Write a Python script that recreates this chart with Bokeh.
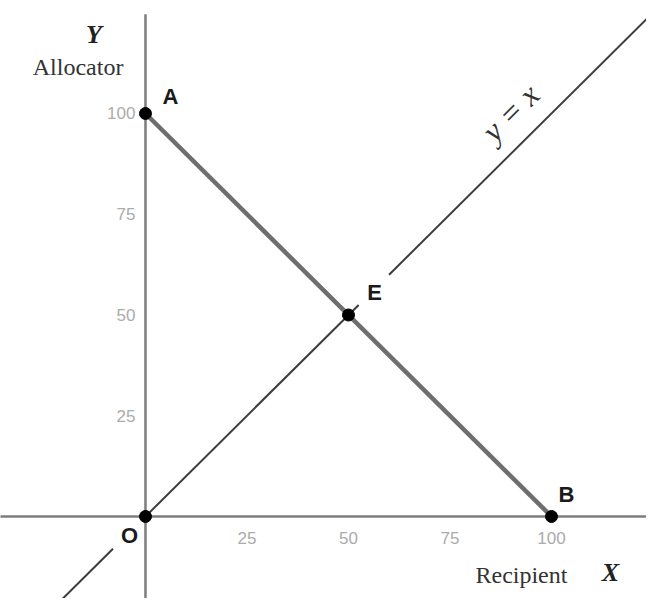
from bokeh.plotting import figure
from bokeh.models import Range1d, ColumnDataSource
from bokeh.core.properties import value
from bokeh.embed import file_html
from bokeh.resources import INLINE
import math

# ---- data ----
point_names = ["O", "A", "B", "E"]
point_x = [0, 0, 100, 50]
point_y = [0, 100, 0, 50]

budget_x = [0, 100]        # line A-B
budget_y = [100, 0]

diag_start = [-30, 0, 60]   # y = x drawn in pieces (gaps for labels)
diag_end = [-8, 52.5, 126]

x_ticks = [25, 50, 75, 100]
x_tick_labels = ["25", "50", "75", "100"]
y_ticks = [25, 50, 75, 100]
y_tick_labels = ["25", "50", "75", "100"]

p = figure(width=646, height=598,
           x_range=Range1d(-35.71, 123.40), y_range=Range1d(-20.35, 128.04),
           x_axis_type=None, y_axis_type=None,
           output_backend="svg", toolbar_location=None, min_border=0)
p.grid.visible = False
p.outline_line_color = None
p.background_fill_color = "white"

# axes lines
p.segment(x0=[-40, 0], y0=[0, -30], x1=[130, 0], y1=[0, 124.6],
          line_color="#7c7c7c", line_width=2.5)

# y = x line
p.segment(x0=diag_start, y0=diag_start, x1=diag_end, y1=diag_end,
          line_color="#3c3c3c", line_width=2)

# budget line A-B
p.line(budget_x, budget_y, line_color="#6e6e6e", line_width=4.5)

# points
p.scatter(point_x, point_y, size=12, color="black")

# point labels
lab_dx = {"O": -16, "A": 25, "B": 15, "E": 26}
lab_dy = {"O": 19, "A": -17, "B": -22, "E": -22}
src = ColumnDataSource(dict(x=point_x, y=point_y, t=point_names,
                            dx=[lab_dx[n] for n in point_names],
                            dy=[lab_dy[n] for n in point_names]))
p.text(x="x", y="y", text="t", x_offset="dx", y_offset="dy", source=src,
       text_font=value("Liberation Sans"), text_font_size="22px",
       text_font_style="bold", text_color="#1a1a1a",
       text_align="center", text_baseline="middle")

# tick labels
p.text(x=x_ticks, y=[0] * len(x_ticks), text=x_tick_labels, y_offset=22,
       text_font=value("Liberation Sans"), text_font_size="17px",
       text_color="#ababab", text_align="center", text_baseline="middle")
p.text(x=[0] * len(y_ticks), y=y_ticks, text=y_tick_labels, x_offset=-10,
       text_font=value("Liberation Sans"), text_font_size="17px",
       text_color="#ababab", text_align="right", text_baseline="middle")

# axis titles
p.text(x=[-12.7], y=[119.5], text=["Y"],
       text_font=value("Liberation Serif"), text_font_size="26px",
       text_font_style="bold italic", text_color="#222222",
       text_align="center", text_baseline="middle")
p.text(x=[-16.6], y=[111.5], text=["Allocator"],
       text_font=value("Liberation Serif"), text_font_size="24px",
       text_color="#333333", text_align="center", text_baseline="middle")
p.text(x=[92.6], y=[-14.4], text=["Recipient"],
       text_font=value("Liberation Serif"), text_font_size="24px",
       text_color="#333333", text_align="center", text_baseline="middle")
p.text(x=[114.5], y=[-13.9], text=["X"],
       text_font=value("Liberation Serif"), text_font_size="26px",
       text_font_style="bold italic", text_color="#222222",
       text_align="center", text_baseline="middle")

# y = x label
p.text(x=[89.9], y=[100.2], text=["y = x"], angle=math.pi / 4,
       text_font=value("Liberation Serif"), text_font_size="32px",
       text_font_style="italic", text_color="#333333",
       text_align="center", text_baseline="middle")

open("out.html", "w").write(file_html(p, INLINE))
